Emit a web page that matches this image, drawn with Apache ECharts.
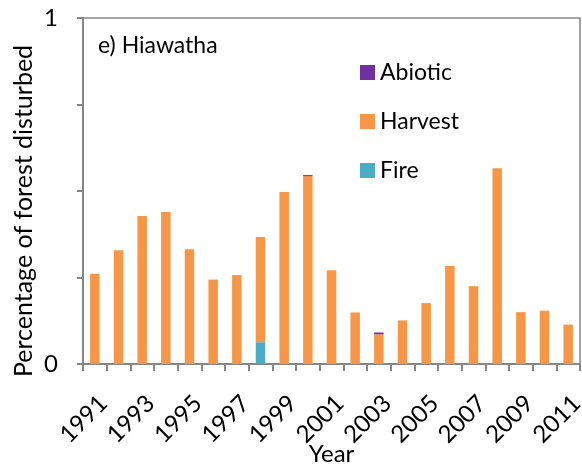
<!DOCTYPE html>
<html>
<head>
<meta charset="utf-8">
<script src="https://cdn.jsdelivr.net/npm/echarts@6/dist/echarts.min.js"></script>
<style>
  html, body { margin: 0; padding: 0; background: #fff; }
  #chart { width: 582px; height: 469px; }
</style>
</head>
<body>
<div id="chart"></div>
<script>
var years = ['1991', '1992', '1993', '1994', '1995', '1996', '1997', '1998', '1999', '2000', '2001',
  '2002', '2003', '2004', '2005', '2006', '2007', '2008', '2009', '2010', '2011']
var fire = [0, 0, 0, 0, 0, 0, 0, 0.063, 0, 0, 0, 0, 0, 0, 0, 0, 0, 0, 0, 0, 0]
var harvest = [0.261, 0.329, 0.428, 0.439, 0.332, 0.244, 0.257, 0.304, 0.497, 0.543, 0.271,
  0.149, 0.086, 0.126, 0.176, 0.283, 0.225, 0.566, 0.150, 0.154, 0.114]
var abiotic = [0, 0, 0, 0, 0, 0, 0, 0, 0, 0.003, 0, 0, 0.005, 0, 0, 0, 0, 0, 0, 0, 0]

var axisGray = '#868686'
var font = 'Lato'

var chart = echarts.init(document.getElementById('chart'))

function barSeries (name, data, color) {
  return {
    name: name,
    type: 'bar',
    stack: 'total',
    data: data,
    barWidth: '40%',
    itemStyle: { color: color },
    emphasis: { disabled: true }
  }
}

chart.setOption({
  animation: false,
  backgroundColor: '#fff',
  textStyle: { fontFamily: font, color: '#000' },
  grid: {
    left: 83,
    top: 18,
    right: 2,
    bottom: 105,
    outerBoundsMode: 'none',
    show: true,
    borderColor: axisGray,
    borderWidth: 1.5
  },
  title: {
    text: 'e) Hiawatha',
    left: 93,
    top: 29,
    textStyle: { fontFamily: font, fontSize: 23, fontWeight: 'normal', color: '#000' }
  },
  legend: {
    orient: 'vertical',
    left: 355,
    top: 56,
    itemGap: 26,
    itemWidth: 15,
    itemHeight: 15,
    icon: 'rect',
    data: ['Abiotic', 'Harvest', 'Fire'],
    textStyle: { fontFamily: font, fontSize: 23, color: '#000' }
  },
  xAxis: {
    type: 'category',
    data: years,
    name: 'Year',
    nameLocation: 'middle',
    nameGap: 78,
    nameMoveOverlap: false,
    nameTextStyle: { fontFamily: font, fontSize: 24, color: '#000' },
    axisLine: { lineStyle: { color: axisGray, width: 2 } },
    axisTick: { show: true, interval: 0, length: 7, lineStyle: { color: axisGray, width: 2 } },
    axisLabel: {
      interval: 1,
      rotate: 45,
      margin: 27,
      verticalAlign: 'top',
      fontFamily: font,
      fontSize: 24,
      color: '#000'
    }
  },
  yAxis: {
    type: 'value',
    min: 0,
    max: 1,
    interval: 0.25,
    name: 'Percentage of forest disturbed',
    nameLocation: 'middle',
    nameGap: 47,
    nameMoveOverlap: false,
    nameTextStyle: { fontFamily: font, fontSize: 25, color: '#000', padding: [0, 40, 0, 0] },
    splitLine: { show: false },
    axisLine: { show: true, lineStyle: { color: axisGray, width: 2 } },
    axisTick: { show: true, length: 6, lineStyle: { color: axisGray, width: 2 } },
    axisLabel: {
      margin: 25,
      fontFamily: font,
      fontSize: 24,
      color: '#000',
      formatter: function (v) {
        return (v === 0 || v === 1) ? String(v) : ''
      }
    }
  },
  series: [
    barSeries('Fire', fire, '#4BACC6'),
    barSeries('Harvest', harvest, '#F79646'),
    barSeries('Abiotic', abiotic, '#7030A0')
  ]
})
</script>
</body>
</html>
